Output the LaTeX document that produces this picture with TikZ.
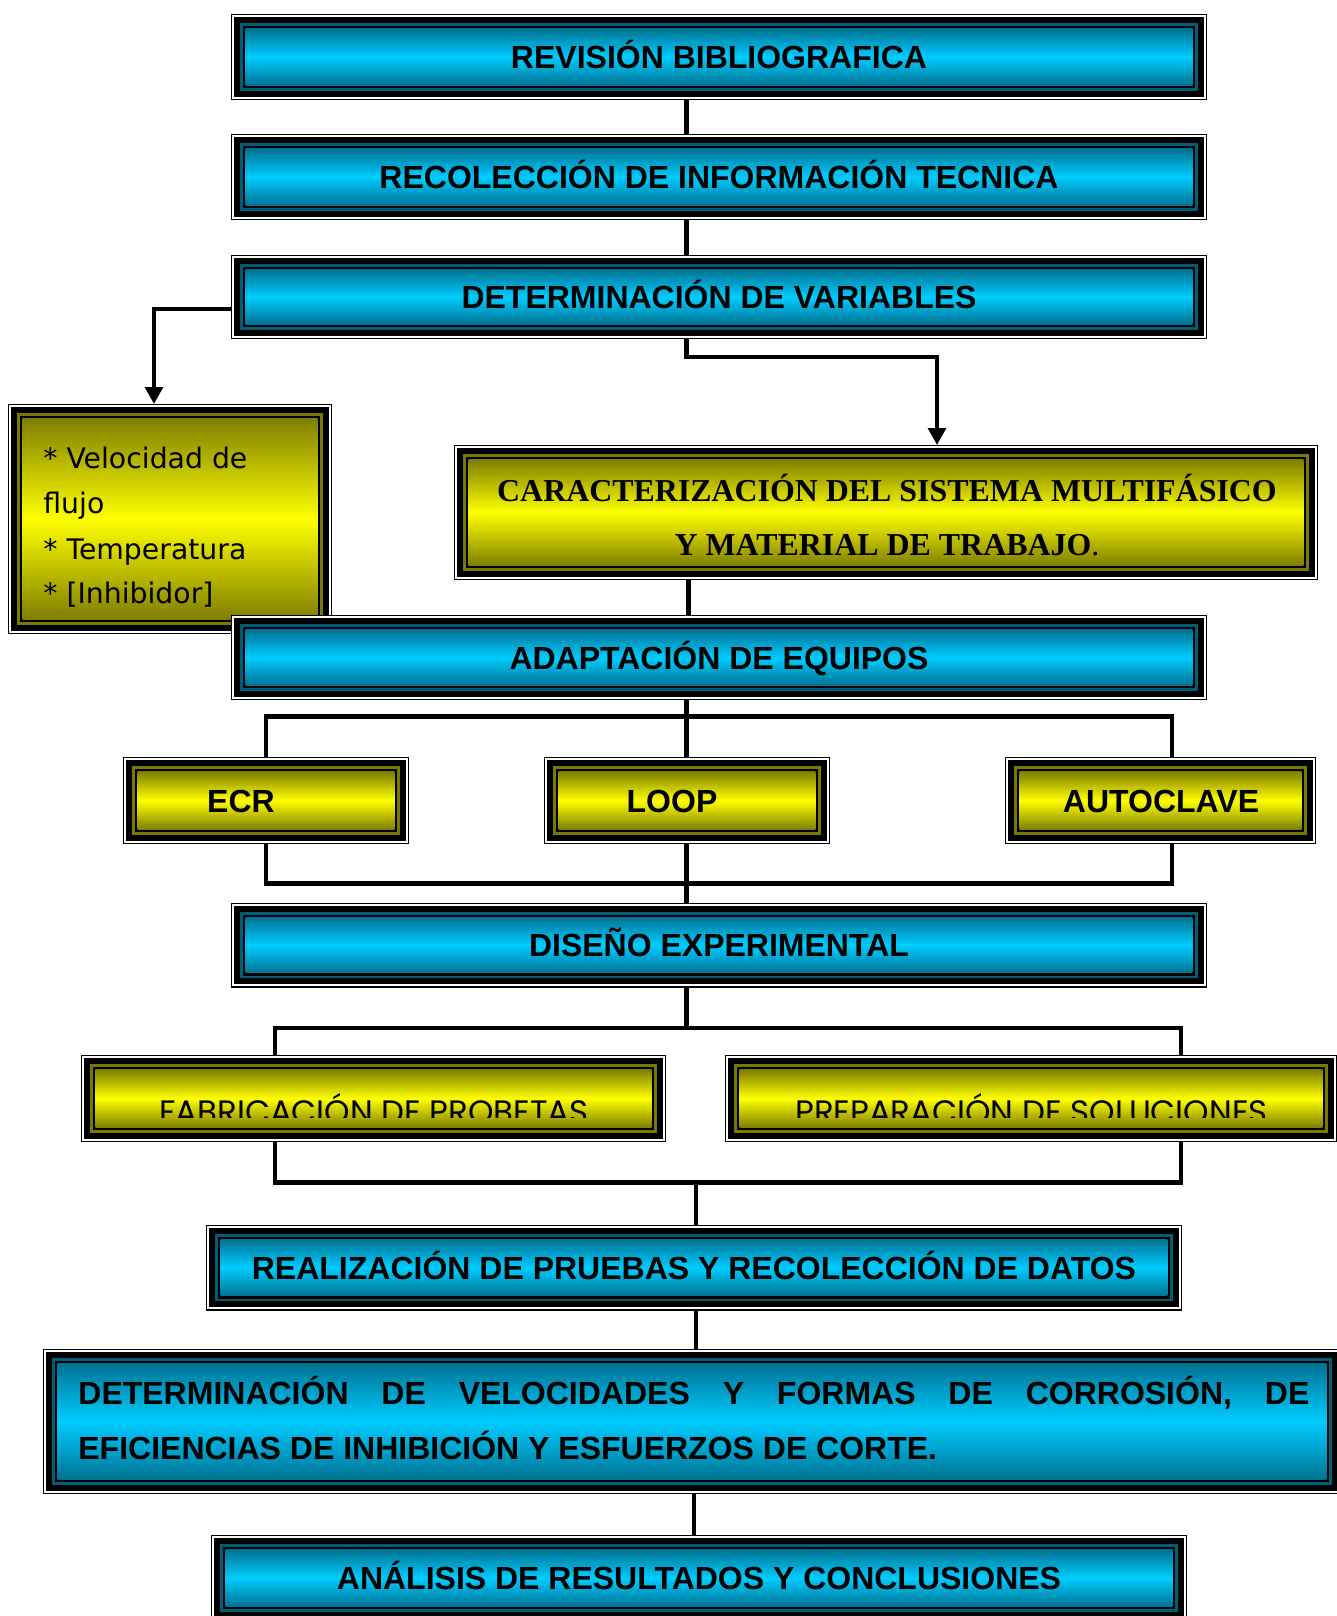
\documentclass[tikz,border=0pt]{standalone}
\usepackage{fontspec}
\setmainfont{Liberation Sans}
\newfontfamily\serifbold{Liberation Serif}
\newfontfamily\listfont{DejaVu Sans}
\newfontfamily\geofont{Poppins}
\usetikzlibrary{arrows.meta}

\definecolor{ringB}{HTML}{005F78}
\definecolor{edgeB}{HTML}{007394}
\definecolor{midB}{HTML}{00CCFF}
\definecolor{ringY}{HTML}{7A7A00}
\definecolor{edgeY}{HTML}{7F7F00}
\definecolor{midY}{HTML}{FFFF00}

\tikzset{
  % box with a layered frame: black / white / thick black / tinted ring / black, then a vertical gradient
  framed/.style n args={3}{rectangle, inner sep=0pt, outer sep=0pt,
    path picture={
      \coordinate (pp-sw) at (path picture bounding box.south west);
      \coordinate (pp-ne) at (path picture bounding box.north east);
      \fill[black] (pp-sw) rectangle (pp-ne);
      \fill[white] ([shift={(0.7pt,0.7pt)}]pp-sw) rectangle ([shift={(-0.7pt,-0.7pt)}]pp-ne);
      \fill[black] ([shift={(1.6pt,1.6pt)}]pp-sw) rectangle ([shift={(-1.6pt,-1.6pt)}]pp-ne);
      \fill[#1] ([shift={(4.7pt,4.7pt)}]pp-sw) rectangle ([shift={(-4.7pt,-4.7pt)}]pp-ne);
      \fill[black] ([shift={(6.0pt,6.0pt)}]pp-sw) rectangle ([shift={(-6.0pt,-6.0pt)}]pp-ne);
      \shade[top color=#2, bottom color=#2, middle color=#3]
        ([shift={(7.3pt,7.3pt)}]pp-sw) rectangle ([shift={(-7.3pt,-7.3pt)}]pp-ne);
    }},
  bluebox/.style={framed={ringB}{edgeB}{midB}},
  yellowbox/.style={framed={ringY}{edgeY}{midY}},
  steptext/.style={font=\bfseries\fontsize{16}{19}\selectfont, text height=11.5pt, text depth=0pt},
  listtext/.style={inner sep=0pt, anchor=base west, font=\listfont\fontsize{14.15}{17}\selectfont},
  bare/.style={inner sep=0pt},
  link/.style={line width=2.4pt},
  linkarrow/.style={link, -{Triangle[width=8.8pt,length=8.5pt]}},
}

\begin{document}
\begin{tikzpicture}[x=0.5pt, y=-0.5pt]
\useasboundingbox (0,0) rectangle (1337,1616);
\fill[white] (0,0) rectangle (1337,1616);

% main column of steps
\node[bluebox, steptext, minimum width=488pt, minimum height=43pt] (rev) at (719,57) {REVISIÓN BIBLIOGRAFICA};
\node[bluebox, steptext, minimum width=488pt, minimum height=43pt] (rec) at (719,177) {RECOLECCIÓN DE INFORMACIÓN TECNICA};
\node[bluebox, steptext, minimum width=488pt, minimum height=42pt] (det) at (719,297) {DETERMINACIÓN DE VARIABLES};

% variables list
\node[yellowbox, minimum width=162pt, minimum height=115pt] (vars) at (170,519) {};
\node[listtext] (v1) at (43,468) {* Velocidad de};
\node[listtext] (v2) at (43,513) {flujo};
\node[listtext] (v3) at (43,559) {* Temperatura};
\node[listtext] (v4) at (43,603) {* [Inhibidor]};

% characterisation
\node[yellowbox, minimum width=432pt, minimum height=67.5pt] (car) at (886,512.5) {};
\node[bare, anchor=base, font=\serifbold\bfseries\fontsize{15.95}{19}\selectfont] (carA) at (887,501) {CARACTERIZACIÓN DEL SISTEMA MULTIFÁSICO};
\node[bare, anchor=base, font=\serifbold\bfseries\fontsize{15.95}{19}\selectfont] (carB) at (887,555) {Y MATERIAL DE TRABAJO\mdseries.};

\node[bluebox, steptext, minimum width=488pt, minimum height=42.5pt] (ada) at (719,657.5) {ADAPTACIÓN DE EQUIPOS};

% equipment
\node[yellowbox, minimum width=143pt, minimum height=43.5pt] (ecr) at (266,800.5) {};
\node[yellowbox, minimum width=143pt, minimum height=43.5pt] (loop) at (687,800.5) {};
\node[yellowbox, minimum width=155.5pt, minimum height=43.5pt] (auto) at (1160.5,800.5) {};
\node[steptext, bare] (ecrT) at (241,801) {ECR};
\node[steptext, bare] (loopT) at (672,801) {LOOP};
\node[steptext, bare] (autoT) at (1161,801) {AUTOCLAVE};

\node[bluebox, steptext, minimum width=488pt, minimum height=42.5pt] (dis) at (719,945) {DISEÑO EXPERIMENTAL};

% preparation
\node[yellowbox, minimum width=292.5pt, minimum height=43.5pt] (fab) at (373.5,1098.5) {};
\node[yellowbox, minimum width=306pt, minimum height=43.5pt] (prep) at (1031,1098.5) {};
\begin{scope}
  \clip (81,1069) rectangle (1337,1117);
  \node[bare, anchor=base, font=\geofont\fontsize{16.2}{18}\selectfont] (fabT) at (374,1123) {FABRICACIÓN DE PROBETAS};
  \node[bare, anchor=base, font=\geofont\fontsize{16.2}{18}\selectfont] (prepT) at (1031.5,1123) {PREPARACIÓN DE SOLUCIONES};
\end{scope}

\node[bluebox, steptext, minimum width=488pt, minimum height=43pt] (rea) at (694,1267.5) {REALIZACIÓN DE PRUEBAS Y RECOLECCIÓN DE DATOS};

\node[bluebox, minimum width=649pt, minimum height=72.5pt] (vel) at (692,1421.5) {};
\node[bare, anchor=base west, font=\bfseries\fontsize{16}{19}\selectfont] (velA) at (78,1404)
  {\makebox[615.5pt][s]{DETERMINACIÓN DE VELOCIDADES Y FORMAS DE CORROSIÓN, DE}};
\node[bare, anchor=base west, font=\bfseries\fontsize{16}{19}\selectfont] (velB) at (78,1459)
  {EFICIENCIAS DE INHIBICIÓN Y ESFUERZOS DE CORTE.};

\node[bluebox, steptext, minimum width=488pt, minimum height=43pt] (ana) at (699,1578) {ANÁLISIS DE RESULTADOS Y CONCLUSIONES};

% connector guide points
\coordinate (c1) at (686.5,0);
\coordinate (c2) at (688.5,0);
\coordinate (c3) at (696,0);
\coordinate (c4) at (694,0);
\coordinate (lk) at (154,309);
\coordinate (rk) at (937,357);
\coordinate (ax) at (1172,716.5);
\coordinate (bx) at (1172,883.5);
\coordinate (tl) at (275,1028);
\coordinate (tr) at (1181,1028);
\coordinate (bl) at (275,1182.5);
\coordinate (br) at (1181,1182.5);

% connectors
\draw[link] (rev.south -| c1) -- (rec.north -| c1);
\draw[link] (rec.south -| c1) -- (det.north -| c1);
\draw[linkarrow] (det.west |- lk) -| (lk |- vars.north);
\draw[linkarrow] (det.south -| c1) |- (rk) -- (rk |- car.north);
\draw[link] (car.south -| c2) -- (ada.north -| c2);
\draw[link] (ada.south -| c1) -- (loop.north -| c1);
\draw[link] (ecr.north) |- (ax) -- (auto.north -| ax);
\draw[link] (ecr.south) |- (bx) -- (auto.south -| bx);
\draw[link] (loop.south -| c1) -- (dis.north -| c1);
\draw[link] (dis.south -| c1) -- (c1 |- tl);
\draw[link] (tl |- fab.north) -- (tl) -- (tr) -- (tr |- prep.north);
\draw[link] (bl |- fab.south) -- (bl) -- (br) -- (br |- prep.south);
\draw[link] (c3 |- bl) -- (rea.north -| c3);
\draw[link] (rea.south -| c3) -- (vel.north -| c3);
\draw[link] (vel.south -| c4) -- (ana.north -| c4);
\end{tikzpicture}
\end{document}
